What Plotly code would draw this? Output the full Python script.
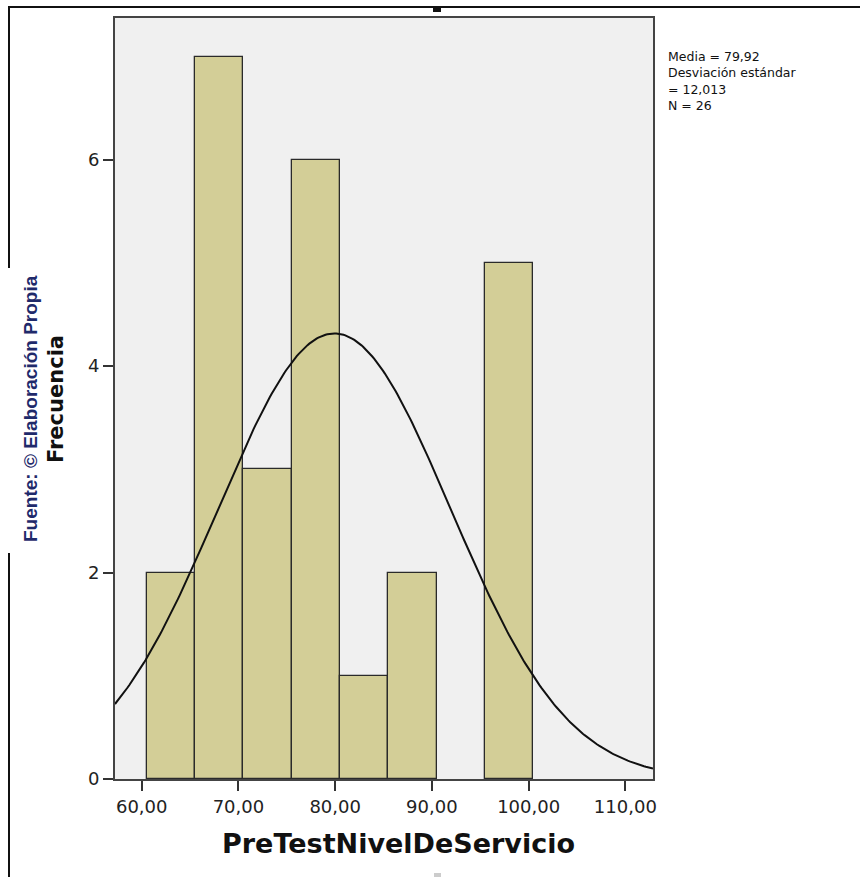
import numpy as np
import plotly.graph_objects as go

# ---- data ----
bin_starts = [60.5, 65.5, 70.5, 75.5, 80.5, 85.5, 90.5, 95.5]
bin_width = 5.0
counts = [2, 7, 3, 6, 1, 2, 0, 5]
mean_val = 79.92
std_val = 12.013
n_val = 26
x_tick_vals = [60, 70, 80, 90, 100, 110]
x_tick_text = ["60,00", "70,00", "80,00", "90,00", "100,00", "110,00"]
y_tick_vals = [0, 2, 4, 6]
y_tick_text = ["0", "2", "4", "6"]

X_RANGE = [57.24, 112.86]
Y_RANGE = [0, 7.373]

W, H = 860, 877
L, R, T, B = 115, 207, 18, 98
PW, PH = W - L - R, H - T - B


def px(xp):
    return (xp - L) / PW


def py(yp):
    return (H - B - yp) / PH


centers = [s + bin_width / 2 for s in bin_starts]
line_widths = [1.3 if c > 0 else 0 for c in counts]

fig = go.Figure()
fig.add_trace(go.Bar(
    x=centers, y=counts, width=[bin_width] * len(counts),
    marker=dict(color="#D3CE97", line=dict(color="#2a2a2a", width=line_widths)),
    hoverinfo="skip", showlegend=False,
))

xs = np.linspace(X_RANGE[0], X_RANGE[1], 300)
ys = n_val * bin_width / (std_val * np.sqrt(2 * np.pi)) * np.exp(-0.5 * ((xs - mean_val) / std_val) ** 2)
fig.add_trace(go.Scatter(x=xs, y=ys, mode="lines", line=dict(color="#111111", width=2),
                         hoverinfo="skip", showlegend=False))

tick_font = dict(family="DejaVu Sans, Verdana, sans-serif", size=18, color="#222222")

fig.update_layout(
    width=W, height=H,
    margin=dict(l=L, r=R, t=T, b=B, pad=0),
    paper_bgcolor="white", plot_bgcolor="#F0F0F0",
    bargap=0,
    xaxis=dict(range=X_RANGE, tickvals=x_tick_vals, ticktext=x_tick_text,
               ticks="outside", ticklen=10, tickwidth=2, tickcolor="#333333",
               showline=True, linecolor="#444444", linewidth=2, mirror=True,
               showgrid=False, zeroline=False, tickfont=tick_font),
    yaxis=dict(range=Y_RANGE, tickvals=y_tick_vals, ticktext=y_tick_text,
               ticks="outside", ticklen=10, tickwidth=2, tickcolor="#333333",
               showline=True, linecolor="#444444", linewidth=2, mirror=True,
               showgrid=False, zeroline=False, tickfont=tick_font),
)

# x-axis title
fig.add_annotation(text="<b>PreTestNivelDeServicio</b>", xref="paper", yref="paper",
                   x=px(398), y=py(843), xanchor="center", yanchor="middle", showarrow=False,
                   font=dict(family="DejaVu Sans, Verdana, sans-serif", size=27, color="#111111"))
# y-axis title
fig.add_annotation(text="<b>Frecuencia</b>", xref="paper", yref="paper",
                   x=px(56), y=py(399), xanchor="center", yanchor="middle", showarrow=False,
                   textangle=-90,
                   font=dict(family="DejaVu Sans, Verdana, sans-serif", size=21, color="#111111"))
# source note
fig.add_annotation(text="<b>Fuente: © Elaboración Propia</b>", xref="paper", yref="paper",
                   x=px(30), y=py(409), xanchor="center", yanchor="middle", showarrow=False,
                   textangle=-90,
                   font=dict(family="Liberation Sans Narrow, Liberation Sans, Arial, sans-serif",
                             size=19, color="#1F2A6B"))

# stats text
stats_lines = ["Media = 79,92", "Desviación estándar", "= 12,013", "N = 26"]
fig.add_annotation(text="<br>".join(stats_lines), xref="paper", yref="paper",
                   x=px(666), y=py(47), xanchor="left", yanchor="top", align="left",
                   showarrow=False,
                   font=dict(family="DejaVu Sans, Verdana, sans-serif", size=12.5, color="#111111"))

# frame lines
frame = dict(color="#111111", width=2)
fig.add_shape(type="line", xref="paper", yref="paper", x0=px(8), x1=px(860), y0=py(7), y1=py(7), line=frame)
fig.add_shape(type="line", xref="paper", yref="paper", x0=px(9), x1=px(9), y0=py(7), y1=py(268), line=frame)
fig.add_shape(type="line", xref="paper", yref="paper", x0=px(9), x1=px(9), y0=py(553), y1=py(877), line=frame)
fig.add_shape(type="rect", xref="paper", yref="paper", x0=px(433), x1=px(441), y0=py(6), y1=py(12),
              fillcolor="#111111", line=dict(width=0))
fig.add_shape(type="rect", xref="paper", yref="paper", x0=px(434), x1=px(441), y0=py(873), y1=py(877),
              fillcolor="#cccccc", line=dict(width=0))

fig.write_html("out.html")
